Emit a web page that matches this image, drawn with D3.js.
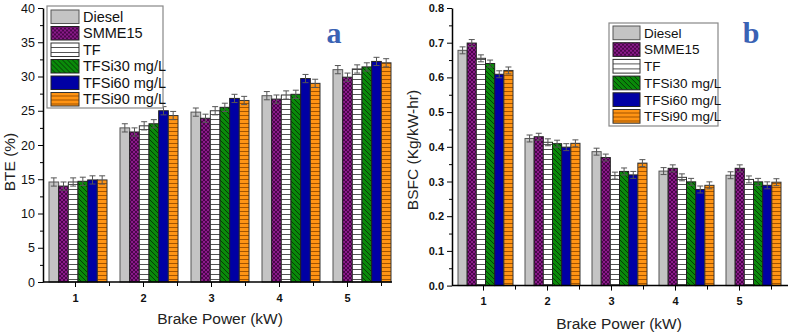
<!DOCTYPE html>
<html>
<head>
<meta charset="utf-8">
<script src="https://cdn.jsdelivr.net/npm/d3@7"></script>
<style>
  body { margin: 0; background: #fff; }
  svg text { font-family: Arial, "Liberation Sans", sans-serif; }
</style>
</head>
<body>
<div id="chart"></div>
<script>
// data
const fuels = ["Diesel", "SMME15", "TF", "TFSi30 mg/L", "TFSi60 mg/L", "TFSi90 mg/L"];
const powers = [1, 2, 3, 4, 5];

// BTE (%) per fuel, one value per brake power
const bteDiesel = [14.6, 22.5, 24.8, 27.2, 31.0];
const bteSmme15 = [14.0, 21.9, 23.9, 26.7, 29.9];
const bteTf     = [14.6, 22.8, 25.0, 27.3, 31.1];
const bteSi30   = [14.7, 23.1, 25.5, 27.4, 31.4];
const bteSi60   = [14.9, 25.0, 26.8, 29.7, 32.2];
const bteSi90   = [14.9, 24.3, 26.5, 29.0, 32.0];
const bteErr = 0.6;

// BSFC (Kg/kW-hr)
const bsfcDiesel = [0.678, 0.424, 0.386, 0.330, 0.318];
const bsfcSmme15 = [0.699, 0.429, 0.369, 0.338, 0.338];
const bsfcTf     = [0.655, 0.413, 0.317, 0.312, 0.306];
const bsfcSi30   = [0.640, 0.409, 0.329, 0.299, 0.299];
const bsfcSi60   = [0.609, 0.399, 0.319, 0.277, 0.289];
const bsfcSi90   = [0.620, 0.410, 0.353, 0.289, 0.298];
const bsfcErr = 0.01;

const bteTicks = [0, 5, 10, 15, 20, 25, 30, 35, 40];
const bsfcTicks = [0, 0.1, 0.2, 0.3, 0.4, 0.5, 0.6, 0.7, 0.8];

const W = 789, H = 333;
const svg = d3.select("#chart").append("svg")
    .attr("width", W)
    .attr("height", H);

// patterns
const defs = svg.append("defs");

const pSmme = defs.append("pattern").attr("id", "pSmme")
    .attr("patternUnits", "userSpaceOnUse").attr("width", 4).attr("height", 4);
pSmme.append("rect").attr("width", 4).attr("height", 4).attr("fill", "#8a1a8a");
pSmme.append("path").attr("d", "M0,0 L4,4 M4,0 L0,4")
    .attr("stroke", "#3a003a").attr("stroke-width", 0.8);

const pTf = defs.append("pattern").attr("id", "pTf")
    .attr("patternUnits", "userSpaceOnUse").attr("width", 6).attr("height", 5);
pTf.append("rect").attr("width", 6).attr("height", 5).attr("fill", "#fff");
pTf.append("path").attr("d", "M0,4.5 L6,4.5")
    .attr("stroke", "#555").attr("stroke-width", 1);

const pSi30 = defs.append("pattern").attr("id", "pSi30")
    .attr("patternUnits", "userSpaceOnUse").attr("width", 5).attr("height", 5);
pSi30.append("rect").attr("width", 5).attr("height", 5).attr("fill", "#0a8a0a");
pSi30.append("path").attr("d", "M0,0 L5,5 M-1,4 L1,6 M4,-1 L6,1")
    .attr("stroke", "#063d06").attr("stroke-width", 1);

const pSi90 = defs.append("pattern").attr("id", "pSi90")
    .attr("patternUnits", "userSpaceOnUse").attr("width", 6).attr("height", 4);
pSi90.append("rect").attr("width", 6).attr("height", 4).attr("fill", "#ff9414");
pSi90.append("path").attr("d", "M0,3.5 L6,3.5")
    .attr("stroke", "#a35400").attr("stroke-width", 1);

const fills = ["#c4c4c4", "url(#pSmme)", "url(#pTf)", "url(#pSi30)", "#0000a4", "url(#pSi90)"];
const strokes = ["#555", "#222", "#333", "#222", "#222", "#333"];

function drawPanel(opt) {
    const g = svg.append("g");

    // scales
    const y = d3.scaleLinear().domain([opt.ticks[0], opt.ticks[opt.ticks.length - 1]])
        .range([opt.y0, opt.y1]);
    const xt = d3.scaleLinear().domain([1, 5]).range(opt.tickRange);
    const xg = d3.scaleLinear().domain([1, 5]).range(opt.groupRange);
    const xb = d3.scaleBand().domain(d3.range(fuels.length)).range([0, opt.groupW]);

    // bars
    opt.series.forEach((vals, s) => {
        const sg = g.append("g");
        sg.selectAll("rect")
            .data(vals)
            .join("rect")
            .attr("x", (d, i) => xg(powers[i]) + xb(s))
            .attr("y", d => y(d))
            .attr("width", xb.bandwidth())
            .attr("height", d => y(0) - y(d))
            .attr("fill", fills[s])
            .attr("stroke", strokes[s])
            .attr("stroke-width", 1);

        // error bars
        const eg = sg.selectAll(".err")
            .data(vals)
            .join("g")
            .attr("class", "err")
            .attr("stroke", "#555")
            .attr("stroke-width", 1);
        const cx = i => xg(powers[i]) + xb(s) + xb.bandwidth() / 2;
        eg.append("line")
            .attr("x1", (d, i) => cx(i)).attr("x2", (d, i) => cx(i))
            .attr("y1", d => y(d - opt.err)).attr("y2", d => y(d + opt.err));
        eg.append("line")
            .attr("x1", (d, i) => cx(i) - 3).attr("x2", (d, i) => cx(i) + 3)
            .attr("y1", d => y(d + opt.err)).attr("y2", d => y(d + opt.err));
        eg.append("line")
            .attr("x1", (d, i) => cx(i) - 3).attr("x2", (d, i) => cx(i) + 3)
            .attr("y1", d => y(d - opt.err)).attr("y2", d => y(d - opt.err));
    });

    // y axis
    const minorY = [];
    for (let i = 0; i < opt.ticks.length - 1; i++) minorY.push((opt.ticks[i] + opt.ticks[i + 1]) / 2);

    g.append("g")
        .attr("transform", "translate(" + opt.x0 + ",0)")
        .call(d3.axisLeft(y).tickValues(minorY).tickSize(3).tickFormat(""))
        .call(a => a.select(".domain").remove());

    const yAxis = g.append("g")
        .attr("transform", "translate(" + opt.x0 + ",0)")
        .call(d3.axisLeft(y).tickValues(opt.ticks).tickSize(5).tickSizeOuter(0)
            .tickFormat(opt.fmt));
    yAxis.select(".domain").attr("stroke-width", 1.5);
    yAxis.selectAll("text")
        .attr("font-size", opt.yFont)
        .attr("font-weight", opt.yBold ? "bold" : "normal")
        .attr("fill", "#111");

    // x axis
    const xAxis = g.append("g")
        .attr("transform", "translate(0," + opt.y0 + ")");
    xAxis.append("line")
        .attr("x1", opt.x0).attr("x2", opt.xEnd)
        .attr("stroke", "#000").attr("stroke-width", 1.5);
    xAxis.call(d3.axisBottom(xt).tickValues(powers).tickSize(5).tickFormat(d3.format("d")))
        .call(a => a.select(".domain").remove());
    xAxis.selectAll("text")
        .attr("font-size", 11)
        .attr("font-weight", "bold")
        .attr("dy", "1.05em")
        .attr("fill", "#111");
    const minorX = powers.map(p => p + 0.5);
    g.append("g")
        .attr("transform", "translate(0," + opt.y0 + ")")
        .call(d3.axisBottom(xt).tickValues(minorX).tickSize(4).tickFormat(""))
        .call(a => a.select(".domain").remove());

    // titles
    g.append("text")
        .attr("transform", "translate(" + opt.yTitleX + "," + opt.yTitleY + ") rotate(-90)")
        .attr("text-anchor", "middle")
        .attr("font-size", 15.5)
        .attr("fill", "#222")
        .text(opt.yTitle);
    g.append("text")
        .attr("x", opt.xTitleX).attr("y", opt.xTitleY)
        .attr("text-anchor", "middle")
        .attr("font-size", 15.5)
        .attr("fill", "#222")
        .text("Brake Power (kW)");

    // panel letter
    g.append("text")
        .attr("x", opt.letterX).attr("y", 43)
        .attr("text-anchor", "middle")
        .attr("font-weight", "bold")
        .attr("font-size", 30)
        .attr("fill", "#3a62b4")
        .style("font-family", "'Liberation Serif', 'DejaVu Serif', serif")
        .text(opt.letter);

    // legend
    const L = opt.legend;
    const lg = g.append("g").attr("transform", "translate(" + L.x + "," + L.y + ")");
    lg.append("rect")
        .attr("width", L.w).attr("height", L.h)
        .attr("fill", "#fff").attr("stroke", "#888").attr("stroke-width", 1.2);
    fuels.forEach((f, i) => {
        const row = lg.append("g").attr("transform", "translate(0," + (L.pad + i * L.row) + ")");
        row.append("rect")
            .attr("x", 4).attr("y", 0)
            .attr("width", L.sw).attr("height", L.row - 3)
            .attr("fill", fills[i]).attr("stroke", strokes[i]).attr("stroke-width", 1);
        row.append("text")
            .attr("x", L.sw + 8).attr("y", (L.row - 3) / 2)
            .attr("dy", "0.36em")
            .attr("font-size", L.font)
            .attr("fill", "#111")
            .text(f);
    });
}

drawPanel({
    series: [bteDiesel, bteSmme15, bteTf, bteSi30, bteSi60, bteSi90],
    err: bteErr,
    ticks: bteTicks,
    fmt: d3.format("d"),
    y0: 282, y1: 8,
    x0: 43, xEnd: 392,
    tickRange: [75, 347],
    groupRange: [49, 333],
    groupW: 58,
    yFont: 12.5, yBold: false,
    yTitle: "BTE (%)", yTitleX: 15, yTitleY: 162,
    xTitleX: 220, xTitleY: 324,
    letter: "a", letterX: 334,
    legend: {x: 47, y: 6, w: 116, h: 102, pad: 4, row: 16.5, sw: 28, font: 14.5}
});

drawPanel({
    series: [bsfcDiesel, bsfcSmme15, bsfcTf, bsfcSi30, bsfcSi60, bsfcSi90],
    err: bsfcErr,
    ticks: bsfcTicks,
    fmt: d3.format(".1f"),
    y0: 285.6, y1: 8,
    x0: 452, xEnd: 788,
    tickRange: [483, 739],
    groupRange: [458, 726],
    groupW: 55,
    yFont: 11, yBold: true,
    yTitle: "BSFC (Kg/kW-hr)", yTitleX: 418, yTitleY: 150,
    xTitleX: 619, xTitleY: 329,
    letter: "b", letterX: 751,
    legend: {x: 609, y: 23, w: 109, h: 103, pad: 3, row: 16.7, sw: 27, font: 13.5}
});
</script>
</body>
</html>
